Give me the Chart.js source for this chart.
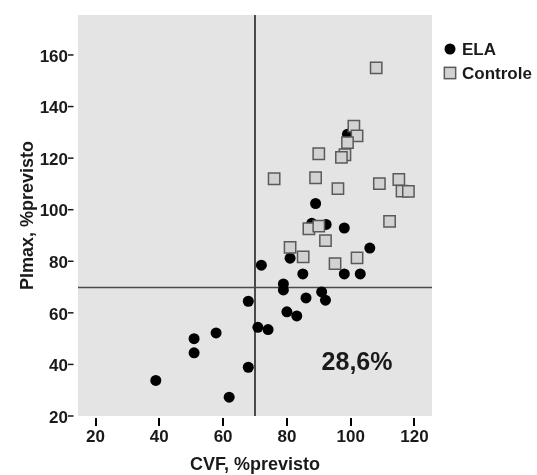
<!DOCTYPE html>
<html>
<head>
<meta charset="utf-8">
<script src="https://cdn.jsdelivr.net/npm/chart.js@4.4.1/dist/chart.umd.min.js"></script>
<style>
  html, body { margin:0; padding:0; background:#fff; }
  #wrap { width:537px; height:475px; }
</style>
</head>
<body>
<div id="wrap"><canvas id="chart" width="537" height="475"></canvas></div>
<script>
// ── Data ───────────────────────────────────────────────────────────────────────
const elaX = [99, 89, 87.8, 92.3, 98, 106, 81, 72, 85, 98, 103, 78.9, 78.9, 90.9, 92.1, 86, 67.9, 80, 83.1, 70.9, 74.1, 57.8, 50.9, 50.9, 67.9, 38.9, 61.9];
const elaY = [129.3, 102.4, 94.7, 94.3, 92.9, 85.1, 81.2, 78.5, 75.1, 75.1, 75.1, 71.2, 68.9, 68.1, 64.9, 65.8, 64.5, 60.4, 58.8, 54.4, 53.5, 52.2, 50, 44.5, 38.9, 33.8, 27.3];

const ctrlX = [108, 101, 102, 99, 98.2, 97.1, 90, 76, 89, 96, 109, 115.1, 116.1, 118.1, 86.9, 90, 112.2, 92.1, 81, 85.1, 102, 95.1];
const ctrlY = [155, 132.4, 128.6, 126, 121.3, 120.3, 121.7, 112, 112.4, 108.2, 110.1, 111.7, 107.2, 107.1, 92.6, 93.6, 95.5, 88, 85.4, 81.7, 81.3, 79.1];

const seriesNames = ['ELA', 'Controle'];
const xTicks = [20, 40, 60, 80, 100, 120];
const yTicks = [20, 40, 60, 80, 100, 120, 140, 160];
const cutX = 70;
const cutY = 70;
const pctText = '28,6%';
const pctAt = [102, 40.6];

const FONT = '"Liberation Sans", Arial, sans-serif';
const INK = '#1a1a1a';

const toPts = (xs, ys) => xs.map((x, i) => ({ x, y: ys[i] }));

// ── Background, reference lines, tick dashes, legend ─────────────────────────
const plotDeco = {
  id: 'plotDeco',
  beforeDraw(chart) {
    const { ctx, chartArea: a } = chart;
    ctx.save();
    ctx.fillStyle = '#e4e4e4';
    ctx.fillRect(a.left, a.top, a.right - a.left, a.bottom - a.top);
    ctx.restore();
  },
  beforeDatasetsDraw(chart) {
    const { ctx, chartArea: a, scales: { x, y } } = chart;
    const px = Math.round(x.getPixelForValue(cutX));
    const py = Math.round(y.getPixelForValue(cutY)) + 0.5;
    ctx.save();
    ctx.strokeStyle = '#4a4a4a';
    ctx.lineWidth = 2;
    ctx.beginPath(); ctx.moveTo(px, a.top); ctx.lineTo(px, a.bottom); ctx.stroke();
    ctx.lineWidth = 1.5;
    ctx.beginPath(); ctx.moveTo(a.left, py); ctx.lineTo(a.right, py); ctx.stroke();
    ctx.restore();
  },
  afterDraw(chart) {
    const { ctx, chartArea: a, scales: { x, y } } = chart;
    ctx.save();
    ctx.strokeStyle = INK;
    ctx.lineWidth = 1.5;
    yTicks.forEach(v => {
      const py = y.getPixelForValue(v);
      ctx.beginPath(); ctx.moveTo(a.left - 10, py); ctx.lineTo(a.left - 4.5, py); ctx.stroke();
    });
    // x tick marks as small filled bars
    ctx.fillStyle = '#000';
    xTicks.forEach(v => {
      const px = Math.round(x.getPixelForValue(v));
      ctx.fillRect(px - 1, a.bottom + 2, 2, 8);
    });

    // percentage label
    ctx.fillStyle = INK;
    ctx.font = 'bold 25px ' + FONT;
    ctx.textAlign = 'center';
    ctx.textBaseline = 'middle';
    ctx.fillText(pctText, x.getPixelForValue(pctAt[0]), y.getPixelForValue(pctAt[1]));

    // legend, using each dataset's own marker style
    ctx.font = 'bold 17px ' + FONT;
    ctx.textAlign = 'left';
    const rows = [49, 73];
    chart.data.datasets.forEach((ds, i) => {
      const cy = rows[i], cx = 450;
      ctx.fillStyle = ds.backgroundColor;
      ctx.strokeStyle = ds.borderColor;
      ctx.lineWidth = ds.borderWidth;
      if (ds.pointStyle === 'circle') {
        ctx.beginPath(); ctx.arc(cx, cy, ds.pointRadius, 0, Math.PI * 2); ctx.fill();
      } else {
        const h = ds.pointRadius * Math.SQRT1_2;
        ctx.fillRect(cx - h, cy - h, h * 2, h * 2);
        ctx.strokeRect(cx - h, cy - h, h * 2, h * 2);
      }
      ctx.fillStyle = INK;
      ctx.fillText(seriesNames[i], 462, cy + 1);
    });
    ctx.restore();
  }
};

new Chart(document.getElementById('chart'), {
  type: 'scatter',
  data: {
    datasets: [
      {
        label: seriesNames[0],
        data: toPts(elaX, elaY),
        pointStyle: 'circle',
        pointRadius: 5.5,
        backgroundColor: '#000',
        borderColor: '#000',
        borderWidth: 0,
        order: 2
      },
      {
        label: seriesNames[1],
        data: toPts(ctrlX, ctrlY),
        pointStyle: 'rect',
        pointRadius: 8,
        backgroundColor: '#d2d2d2',
        borderColor: '#5a5a5a',
        borderWidth: 1.5,
        order: 1
      }
    ]
  },
  options: {
    responsive: false,
    animation: false,
    layout: { padding: { top: 15, right: 105, left: 0, bottom: 0 } },
    plugins: { legend: { display: false }, tooltip: { enabled: false } },
    scales: {
      x: {
        min: 14.5, max: 125.5,
        afterFit: s => { s.height = 59; s.paddingLeft = 0; s.paddingRight = 0; },
        afterBuildTicks: s => { s.ticks = xTicks.map(v => ({ value: v })); },
        grid: { display: false, drawTicks: false },
        border: { display: false },
        ticks: { padding: 11, color: INK, font: { family: FONT, size: 17, weight: 'bold' } },
        title: { display: true, text: 'CVF, %previsto', color: INK, padding: { top: 0, bottom: -1 },
                 font: { family: FONT, size: 18, weight: 'bold' } }
      },
      y: {
        min: 20, max: 175.5,
        afterFit: s => { s.width = 78; s.paddingTop = 0; s.paddingBottom = 0; },
        afterBuildTicks: s => { s.ticks = yTicks.map(v => ({ value: v })); },
        grid: { display: false, drawTicks: false },
        border: { display: false },
        ticks: { padding: 10, labelOffset: 2, color: INK, font: { family: FONT, size: 17, weight: 'bold' } },
        title: { display: true, text: 'PImax, %previsto', color: INK, padding: { top: 17, bottom: 0 },
                 font: { family: FONT, size: 18, weight: 'bold' } }
      }
    }
  },
  plugins: [plotDeco]
});
</script>
</body>
</html>
